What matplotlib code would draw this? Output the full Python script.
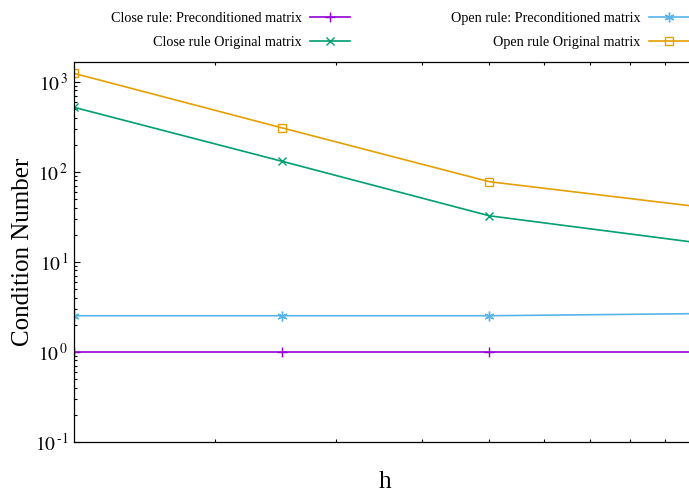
import numpy as np
import matplotlib
matplotlib.use("Agg")
import matplotlib.pyplot as plt
from matplotlib.ticker import LogLocator, NullFormatter, FuncFormatter

plt.rcParams['font.family'] = ['Liberation Serif', 'DejaVu Serif']
plt.rcParams['mathtext.fontset'] = 'stix'

# mesh size and condition numbers
h = [1.25, 2.5, 5.0, 10.0]
close_pre = [1.0, 1.0, 1.0, 1.0]
close_orig = [520, 131, 32.4, 16.3]
open_pre = [2.51, 2.51, 2.51, 2.65]
open_orig = [1240, 308, 77.5, 41]

labels = ["Close rule: Preconditioned matrix", "Close rule Original matrix",
          "Open rule: Preconditioned matrix", "Open rule Original matrix"]

fig = plt.figure(figsize=(6.89, 4.95), dpi=100)
# plot area runs a little past the right edge of the image
ax = fig.add_axes([74/689, 53.3/495, 623/689, 379.4/495])

l1, = ax.plot(h, close_pre, color='#9400d3', marker='+', ms=7, mew=1.0, lw=1.2)
l2, = ax.plot(h, close_orig, color='#009e73', marker='x', ms=5.5, mew=1.0, lw=1.2)
l3, = ax.plot(h, open_pre, color='#56b4e9', marker=(6, 2, 0), ms=7, mew=1.0, lw=1.2)
l4, = ax.plot(h, open_orig, color='#e69f00', marker='s', ms=5.5, mfc='none', mew=1.0, lw=1.2)

ax.set_xscale('log')
ax.set_yscale('log')
ax.set_xlim(1.25, 10)
ax.set_ylim(0.1, 1645)


def decade(v, pos):
    e = int(round(np.log10(v)))
    if e < 0:
        return r'$10^{\,\text{-}%d}$' % (-e)
    return r'$10^{\,%d}$' % e


ax.xaxis.set_major_formatter(NullFormatter())
ax.xaxis.set_minor_formatter(NullFormatter())
ax.xaxis.set_minor_locator(LogLocator(base=10, subs=np.arange(2, 10)))
ax.yaxis.set_major_locator(LogLocator(base=10, numticks=10))
ax.yaxis.set_minor_locator(LogLocator(base=10, subs=np.arange(2, 10), numticks=20))
ax.yaxis.set_major_formatter(FuncFormatter(decade))
ax.yaxis.set_minor_formatter(NullFormatter())

ax.tick_params(which='both', direction='in', top=True, right=True, width=0.8)
ax.tick_params(which='major', length=4.5, labelsize=14, pad=4)
ax.tick_params(which='minor', length=2.3)
for s in ax.spines.values():
    s.set_linewidth(0.9)

ax.set_ylabel("Condition Number", fontsize=18)
ax.yaxis.set_label_coords(-0.064, 0.5)
ax.set_xlabel("h", fontsize=18)
ax.xaxis.set_label_coords(0.5, -0.078)

leg_kw = dict(loc='upper right', frameon=False, markerfirst=False, fontsize=10.2,
              handlelength=2.8, handletextpad=0.6, labelspacing=0.75, borderpad=0,
              borderaxespad=0)
fig.legend([l1, l2], labels[:2], bbox_to_anchor=(350/689, 0.975), **leg_kw)
fig.legend([l3, l4], labels[2:], bbox_to_anchor=(1.0, 0.975), **leg_kw)

fig.savefig("out.png", dpi=100)
